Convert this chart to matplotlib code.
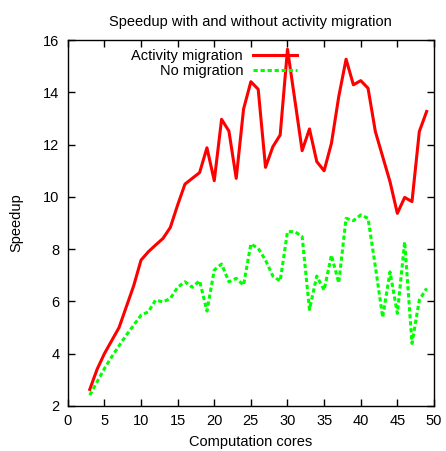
import matplotlib
matplotlib.use("Agg")
import matplotlib.pyplot as plt

plt.rcParams['font.family'] = ['Liberation Sans', 'DejaVu Sans']

cores = list(range(3, 50))
with_migration = [2.63, 3.4, 4.0, 4.5, 5.0, 5.8, 6.6, 7.58, 7.9, 8.16, 8.41, 8.83, 9.69,
                  10.49, 10.71, 10.93, 11.88, 10.62, 12.97, 12.52, 10.71, 13.36, 14.41,
                  14.12, 11.13, 11.92, 12.37, 15.65, 13.72, 11.77, 12.6, 11.35, 11.0,
                  12.05, 13.84, 15.27, 14.29, 14.45, 14.16, 12.5, 11.54, 10.58, 9.37,
                  9.98, 9.82, 12.5, 13.27]
no_migration = [2.41, 2.92, 3.43, 3.88, 4.3, 4.71, 5.09, 5.47, 5.6, 6.05, 5.98, 6.11, 6.54,
                6.75, 6.54, 6.79, 5.63, 7.2, 7.43, 6.75, 6.88, 6.62, 8.2, 8.03, 7.58,
                6.97, 6.78, 8.67, 8.67, 8.48, 5.69, 6.97, 6.43, 7.77, 6.71, 9.18, 9.09,
                9.31, 9.18, 7.33, 5.39, 7.13, 5.54, 8.28, 4.39, 6.05, 6.5]

fig = plt.figure(figsize=(4.46, 4.51), dpi=100)
ax = fig.add_axes([0.152, 0.100, 0.821, 0.811])

ax.plot(cores, with_migration, color='#ff0000', lw=2.2, label='Activity migration')
ax.plot(cores, no_migration, color='#00ff00', lw=2.2, ls=(0, (1.4, 0.9)), label='No migration')

ax.set_xlim(0, 50)
ax.set_ylim(2, 16)
ax.set_xticks(range(0, 51, 5))
ax.set_yticks(range(2, 17, 2))
ax.tick_params(direction='in', top=True, right=True, length=5, width=1, labelsize=10.5, pad=6)
for s in ax.spines.values():
    s.set_linewidth(1)

ax.set_title('Speedup with and without activity migration', fontsize=10.5, pad=10)
ax.set_xlabel('Computation cores', fontsize=10.5, labelpad=5)
ax.set_ylabel('Speedup', fontsize=10.5, labelpad=14)

ax.legend(loc='upper right', bbox_to_anchor=(0.626, 0.976), frameon=False, fontsize=10.5,
          markerfirst=False, handlelength=3, handletextpad=0.7, labelspacing=0.05,
          borderaxespad=0, borderpad=0)

fig.savefig('out.png', dpi=100)
